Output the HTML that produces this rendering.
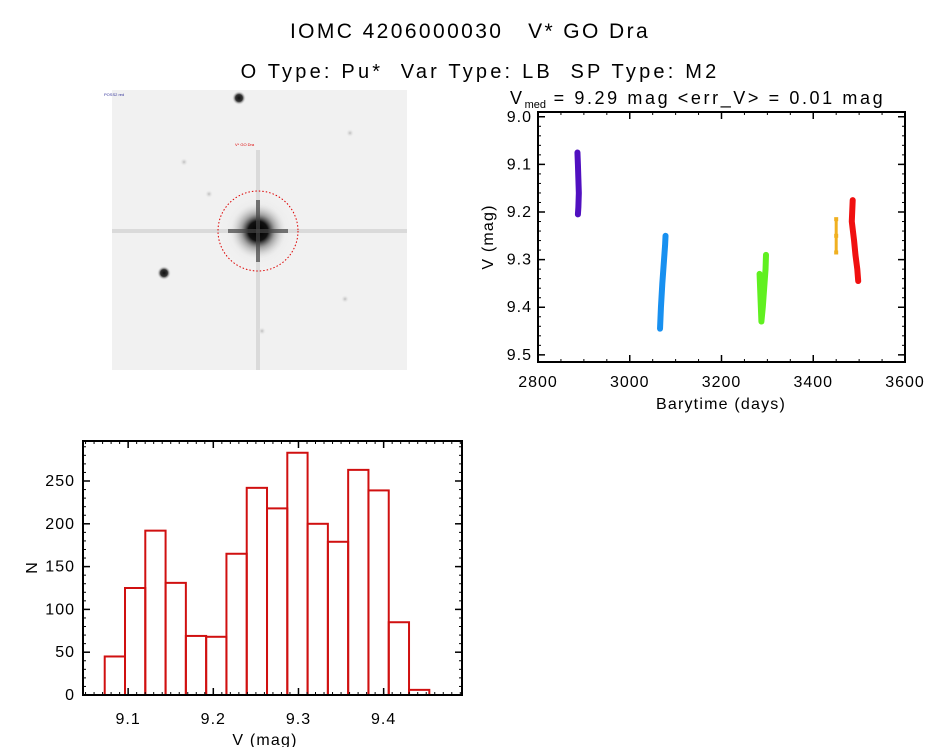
<!DOCTYPE html>
<html><head><meta charset="utf-8"><style>
html,body{margin:0;padding:0;background:#fff;}
body{width:944px;height:747px;overflow:hidden;position:relative;font-family:"Liberation Sans",sans-serif;}
svg text{font-family:"Liberation Sans",sans-serif;}
</style></head><body>
<svg id="root" width="944" height="747" viewBox="0 0 944 747">
<text x="470" y="38" text-anchor="middle" font-size="21" letter-spacing="2.4">IOMC 4206000030&#160;&#160;&#160;V* GO Dra</text>
<text x="480" y="78" text-anchor="middle" font-size="20" letter-spacing="3.2">O Type: Pu*&#160;&#160;Var Type: LB&#160;&#160;SP Type: M2</text>
<g>
<defs>
<radialGradient id="star"><stop offset="0" stop-color="#000"/><stop offset="0.35" stop-color="#111"/><stop offset="0.6" stop-color="#777" stop-opacity="0.6"/><stop offset="1" stop-color="#ddd" stop-opacity="0"/></radialGradient>
<radialGradient id="s2"><stop offset="0" stop-color="#111"/><stop offset="0.5" stop-color="#333"/><stop offset="1" stop-color="#eee" stop-opacity="0"/></radialGradient>
<radialGradient id="s3"><stop offset="0" stop-color="#bbb"/><stop offset="1" stop-color="#eee" stop-opacity="0"/></radialGradient>
</defs>
<rect x="112" y="90" width="295" height="280" fill="#f1f1f1"/>
<rect x="112" y="229" width="295" height="4" fill="#ccc" opacity="0.6"/>
<rect x="256" y="150" width="4" height="220" fill="#ccc" opacity="0.6"/>
<circle cx="258" cy="231" r="40" fill="url(#s3)" opacity="0.6"/>
<circle cx="258" cy="231" r="28" fill="url(#star)"/>
<rect x="228" y="229" width="60" height="4" fill="#444" opacity="0.7"/>
<rect x="256" y="200" width="4" height="62" fill="#444" opacity="0.7"/>
<circle cx="258" cy="231" r="40" fill="none" stroke="#d00" stroke-width="1" stroke-dasharray="1.5,2"/>
<circle cx="239" cy="98" r="7" fill="url(#s2)"/>
<circle cx="164" cy="273" r="7" fill="url(#s2)"/>
<circle cx="184" cy="162" r="4" fill="url(#s3)"/>
<circle cx="209" cy="194" r="4" fill="url(#s3)"/>
<circle cx="350" cy="133" r="4" fill="url(#s3)"/>
<circle cx="262" cy="331" r="4" fill="url(#s3)"/>
<circle cx="345" cy="299" r="4" fill="url(#s3)"/>
<text x="235" y="146" font-size="4" fill="#d00">V* GO Dra</text>
<text x="104" y="96" font-size="4" fill="#339">POSS2 red</text>
</g>
<g id="lc"></g>
<g id="hist"></g>
</svg>
<script>
// ---- light curve data ----
const lcClusterNames = ['s1','s2','s3','s4','s5'];
const lcColors = ['#5010c0','#1890f0','#60f020','#f0b020','#f01010'];
const lcTimes = [[2886,2887,2888,2889,2888,2887],[3066,3068,3071,3074,3077,3078],[3283,3287,3290,3293,3296,3297],[3450,3450,3450],[3486,3484,3489,3492,3496,3498]];
const lcMags  = [[9.075,9.10,9.13,9.16,9.19,9.205],[9.445,9.40,9.35,9.31,9.27,9.25],[9.33,9.43,9.40,9.36,9.32,9.29],[9.215,9.25,9.285],[9.175,9.22,9.26,9.29,9.32,9.345]];
const lcXTicks = [2800,3000,3200,3400,3600];
const lcYTicks = [9.0,9.1,9.2,9.3,9.4,9.5];
// ---- histogram data ----
const histStart = 9.0725, histWidth = 0.02382;
const histCounts = [45,125,192,131,69,68,165,242,218,283,200,179,263,239,85,6];
const histXTicks = [9.1,9.2,9.3,9.4];
const histYTicks = [0,50,100,150,200,250];

const NS='http://www.w3.org/2000/svg';
function mk(tag, attrs, parent){const e=document.createElementNS(NS,tag);for(const k in attrs)e.setAttribute(k,attrs[k]);parent.appendChild(e);return e;}

// light curve axes
const lc=document.getElementById('lc');
const L={x0:538,x1:905,y0:112,y1:362};
const lx=t=>L.x0+(t-2800)/800*(L.x1-L.x0);
const ly=v=>L.y0+(v-8.99)/(9.515-8.99)*(L.y1-L.y0);
let t=mk('rect',{x:L.x0,y:L.y0,width:L.x1-L.x0,height:L.y1-L.y0,fill:'none',stroke:'#000','stroke-width':2},lc);


lcXTicks.forEach(v=>{const x=lx(v);
 mk('line',{x1:x,x2:x,y1:L.y1,y2:L.y1-7,stroke:'#000','stroke-width':1.5},lc);
 mk('line',{x1:x,x2:x,y1:L.y0,y2:L.y0+7,stroke:'#000','stroke-width':1.5},lc);
 const e=mk('text',{x:x,y:L.y1+25,'text-anchor':'middle','font-size':16,'letter-spacing':1},lc);e.textContent=v;
 
 
});
for(let v=2800;v<3600;v+=50){const x=lx(v);mk('line',{x1:x,x2:x,y1:L.y1,y2:L.y1-3,stroke:'#000'},lc);mk('line',{x1:x,x2:x,y1:L.y0,y2:L.y0+3,stroke:'#000'},lc);}
lcYTicks.forEach(v=>{const y=ly(v);
 mk('line',{x1:L.x0,x2:L.x0+7,y1:y,y2:y,stroke:'#000','stroke-width':1.5},lc);
 mk('line',{x1:L.x1,x2:L.x1-7,y1:y,y2:y,stroke:'#000','stroke-width':1.5},lc);
 const e=mk('text',{x:L.x0-6,y:y+5,'text-anchor':'end','font-size':16,'letter-spacing':1},lc);e.textContent=v.toFixed(1);
 
 
});
for(let v=9.0;v<9.51;v+=0.02){const y=ly(v);mk('line',{x1:L.x0,x2:L.x0+3,y1:y,y2:y,stroke:'#000'},lc);mk('line',{x1:L.x1,x2:L.x1-3,y1:y,y2:y,stroke:'#000'},lc);}
t=mk('text',{x:721,y:409,'text-anchor':'middle','font-size':16,'letter-spacing':1.2},lc);t.textContent='Barytime (days)';


t=mk('text',{x:493,y:237,'text-anchor':'middle','font-size':16,'letter-spacing':1.2,transform:'rotate(-90 493 237)'},lc);t.textContent='V (mag)';


t=mk('text',{x:510,y:104,'font-size':18,'letter-spacing':2.6},lc);
t.innerHTML='V<tspan font-size="11" dy="4" letter-spacing="0">med</tspan><tspan dy="-4"> = 9.29 mag &lt;err_V&gt; = 0.01 mag</tspan>';


lcTimes.forEach((ts,i)=>{
 const pts=ts.map((tt,j)=>lx(tt)+','+ly(lcMags[i][j])).join(' ');
 const p=mk('polyline',{points:pts,fill:'none',stroke:lcColors[i],'stroke-width':i===3?3:6,'stroke-linejoin':'round','stroke-linecap':'round'},lc);
 
 
 ts.forEach((tt,j)=>{const r=mk('rect',{x:lx(tt)-2,y:ly(lcMags[i][j])-2,width:4,height:4,fill:lcColors[i]},lc);
  
  });
});

// histogram
const h=document.getElementById('hist');
const H={x0:83,x1:462,y0:441,y1:695};
const hx=v=>H.x0+(v-9.047)/(9.492-9.047)*(H.x1-H.x0);
const hy=n=>H.y1-n*0.856;
histCounts.forEach((n,i)=>{const a=hx(histStart+i*histWidth),b=hx(histStart+(i+1)*histWidth);
 const r=mk('rect',{x:a,y:hy(n),width:b-a,height:H.y1-hy(n),fill:'none',stroke:'#d01010','stroke-width':2},h);
 
 
});
t=mk('rect',{x:H.x0,y:H.y0,width:H.x1-H.x0,height:H.y1-H.y0,fill:'none',stroke:'#000','stroke-width':2},h);


histXTicks.forEach(v=>{const x=hx(v);
 mk('line',{x1:x,x2:x,y1:H.y1,y2:H.y1-7,stroke:'#000','stroke-width':1.5},h);
 mk('line',{x1:x,x2:x,y1:H.y0,y2:H.y0+7,stroke:'#000','stroke-width':1.5},h);
 const e=mk('text',{x:x,y:H.y1+29,'text-anchor':'middle','font-size':16,'letter-spacing':1},h);e.textContent=v.toFixed(1);
 
 
});
for(let v=9.05;v<9.49;v+=0.01){const x=hx(v);mk('line',{x1:x,x2:x,y1:H.y1,y2:H.y1-3,stroke:'#000'},h);mk('line',{x1:x,x2:x,y1:H.y0,y2:H.y0+3,stroke:'#000'},h);}
histYTicks.forEach(v=>{const y=hy(v);
 mk('line',{x1:H.x0,x2:H.x0+7,y1:y,y2:y,stroke:'#000','stroke-width':1.5},h);
 mk('line',{x1:H.x1,x2:H.x1-7,y1:y,y2:y,stroke:'#000','stroke-width':1.5},h);
 const e=mk('text',{x:H.x0-8,y:y+5,'text-anchor':'end','font-size':16,'letter-spacing':1},h);e.textContent=v;
 
 
});
for(let v=0;v<297;v+=10){const y=hy(v);mk('line',{x1:H.x0,x2:H.x0+3,y1:y,y2:y,stroke:'#000'},h);mk('line',{x1:H.x1,x2:H.x1-3,y1:y,y2:y,stroke:'#000'},h);}
t=mk('text',{x:265,y:745,'text-anchor':'middle','font-size':16,'letter-spacing':1.2},h);t.textContent='V (mag)';


t=mk('text',{x:37,y:568,'text-anchor':'middle','font-size':16,transform:'rotate(-90 37 568)'},h);t.textContent='N';


</script>
</body></html>
